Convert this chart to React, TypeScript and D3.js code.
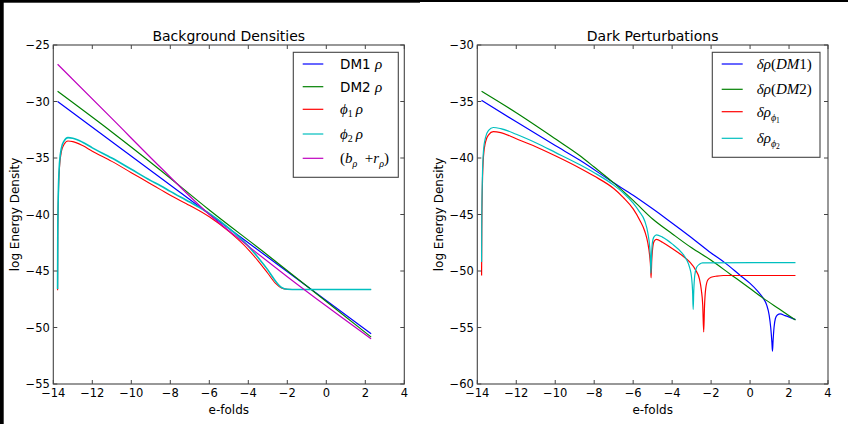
import React from 'react';
import * as d3 from 'd3';

// ---- data ----
const xTicks = [-14, -12, -10, -8, -6, -4, -2, 0, 2, 4];
const leftYTicks = [-55, -50, -45, -40, -35, -30, -25];
const rightYTicks = [-60, -55, -50, -45, -40, -35, -30];

type Pt = [number, number];

// Background Densities
const bgDm1: Pt[] = [[-13.78, -30], [-6, -39.95], [2.3, -50.55]];
const bgDm2: Pt[] = [[-13.78, -29.1], [-11, -32.7], [-8.52, -36.06], [-6, -39.6], [-3, -43.6], [0, -47.7], [2.3, -50.85]];
const bgPhi1: Pt[] = [
  [-13.78, -46.7], [-13.77, -42], [-13.74, -38.5], [-13.68, -35.8], [-13.58, -34.4], [-13.45, -33.8],
  [-13.25, -33.5], [-13.0, -33.55], [-12.5, -33.9], [-12, -34.4], [-11, -35.3], [-10, -36.3], [-9, -37.3],
  [-8.5, -37.8], [-8, -38.3], [-7, -39.2], [-6, -40.2], [-5, -41.5], [-4, -43.1], [-3.5, -44.1], [-3, -45.2],
  [-2.6, -46.1], [-2.3, -46.5], [-2, -46.62], [-1.5, -46.64], [2.3, -46.64],
];
const bgPhi2: Pt[] = [
  [-13.78, -46.6], [-13.77, -41.5], [-13.74, -38], [-13.68, -35.4], [-13.58, -34.1], [-13.45, -33.5],
  [-13.25, -33.2], [-13.0, -33.25], [-12.5, -33.6], [-12, -34.1], [-11, -35.0], [-10, -36.0], [-9, -37.0],
  [-8.5, -37.45], [-8, -37.95], [-7, -38.9], [-6, -39.9], [-5, -41.2], [-4, -42.8], [-3.5, -43.8], [-3, -44.9],
  [-2.6, -45.9], [-2.3, -46.45], [-2, -46.62], [-1.5, -46.64], [2.3, -46.64],
];
const bgBr: Pt[] = [[-13.78, -26.7], [-11, -31.5], [-8.52, -35.8], [-6, -40.0], [-4, -42.8], [-2, -45.5], [0, -48.1], [2.3, -51.0]];

// Dark Perturbations
const dpDm1: Pt[] = [
  [-13.78, -34.9], [-12, -36.8], [-10, -38.9], [-8.73, -40.2], [-7, -42.2], [-6, -43.3], [-5, -44.5], [-4.2, -45.5],
  [-3, -47.05], [-2, -48.4], [-1.3, -49.26], [-0.53, -50.35], [0, -51.1], [0.4, -51.8], [0.67, -52.4], [0.85, -53.0],
  [0.98, -53.9], [1.06, -55.0], [1.12, -56.3], [1.15, -57.1], [1.18, -56.2], [1.23, -55.0], [1.3, -54.2], [1.4, -53.9],
  [1.55, -53.8], [1.8, -53.95], [2.05, -54.1], [2.33, -54.3],
];
const dpDm2: Pt[] = [
  [-13.78, -34.1], [-12, -36.0], [-10, -38.3], [-8.73, -39.8], [-8, -40.8], [-7, -42.2], [-6, -43.75], [-5, -45.4],
  [-4, -46.7], [-3, -47.95], [-2, -49.05], [-1, -50.3], [0, -51.55], [0.67, -52.4], [1.5, -53.37], [2.33, -54.34],
];
const dpPhi1: Pt[] = [
  [-13.78, -50.4], [-13.77, -46.5], [-13.74, -42.5], [-13.68, -39.8], [-13.58, -38.6], [-13.42, -37.95], [-13.18, -37.67],
  [-12.8, -37.75], [-12, -38.3], [-11, -39.0], [-10, -39.8], [-8.73, -40.9], [-8, -41.6], [-7, -42.7], [-6.5, -43.5],
  [-6, -44.5], [-5.66, -45.5], [-5.4, -46.5], [-5.25, -47.5], [-5.15, -48.7], [-5.1, -49.8], [-5.08, -50.6], [-5.05, -49.2],
  [-5.0, -48.0], [-4.92, -47.35], [-4.8, -47.2], [-4.5, -47.45], [-4, -48.0], [-3.5, -48.6], [-3.1, -49.2], [-2.8, -49.9],
  [-2.6, -50.7], [-2.5, -51.7], [-2.43, -53.0], [-2.38, -55.4], [-2.34, -53.2], [-2.28, -51.6], [-2.17, -50.8],
  [-2.0, -50.55], [-1.7, -50.45], [-1.37, -50.4], [2.33, -50.4],
];
const dpPhi2: Pt[] = [
  [-13.78, -49.2], [-13.77, -45.5], [-13.74, -41.8], [-13.68, -39.3], [-13.58, -38.2], [-13.42, -37.55], [-13.18, -37.3],
  [-12.8, -37.4], [-12, -37.9], [-11, -38.65], [-10, -39.5], [-8.73, -40.6], [-8, -41.3], [-7, -42.4], [-6.5, -43.1],
  [-6, -44.0], [-5.7, -44.7], [-5.4, -45.6], [-5.25, -46.6], [-5.15, -47.9], [-5.11, -49.0], [-5.09, -50.2], [-5.06, -48.8],
  [-5.02, -47.6], [-4.94, -47.0], [-4.8, -46.8], [-4.5, -47.0], [-4, -47.6], [-3.5, -48.4], [-3.26, -49.0], [-3.1, -49.7],
  [-3.0, -50.6], [-2.95, -51.8], [-2.92, -53.4], [-2.89, -51.8], [-2.84, -50.4], [-2.75, -49.7], [-2.6, -49.4],
  [-2.44, -49.28], [2.33, -49.26],
];

const BLUE = '#0000ff';
const GREEN = '#008000';
const RED = '#ff0000';
const CYAN = '#00bfbf';
const MAGENTA = '#bf00bf';
const SPINE = '#444';
const SANS = 'DejaVu Sans, sans-serif';
const SERIF = 'Liberation Serif, serif';
const PHI = '\u03d5';

const fmt = (v: number) => String(v).replace('-', '\u2212');

interface PanelProps {
  x0: number; x1: number; y0: number; y1: number;
  yDomain: [number, number];
  yTicks: number[];
  title: string;
  series: { data: Pt[]; color: string; width?: number }[];
  legend: { box: [number, number, number, number]; lineX: [number, number]; textX: number; rows: number[]; labels: React.ReactNode[] };
}

const Panel = ({ x0, x1, y0, y1, yDomain, yTicks, title, series, legend }: PanelProps) => {
  const x = d3.scaleLinear().domain([-14, 4]).range([x0, x1]);
  const y = d3.scaleLinear().domain(yDomain).range([y1, y0]);
  const line = d3.line<Pt>().x(d => x(d[0])).y(d => y(d[1])).curve(d3.curveMonotoneX);
  const tl = 4;
  const [bx, by, bw, bh] = legend.box;
  return (
    <g>
      <defs>
        <clipPath id={`clip-${Math.round(x0)}`}>
          <rect x={x0} y={y0} width={x1 - x0} height={y1 - y0} />
        </clipPath>
      </defs>
      <g clipPath={`url(#clip-${Math.round(x0)})`}>
        {series.map((s, i) => (
          <path key={i} d={line(s.data) || ''} fill="none" stroke={s.color} strokeWidth={s.width ?? 1.2} />
        ))}
      </g>
      <rect x={x0} y={y0} width={x1 - x0} height={y1 - y0} fill="none" stroke={SPINE} strokeWidth={1.1} />
      {xTicks.map(t => (
        <g key={`x${t}`}>
          <line x1={x(t)} x2={x(t)} y1={y1} y2={y1 - tl} stroke={SPINE} />
          <line x1={x(t)} x2={x(t)} y1={y0} y2={y0 + tl} stroke={SPINE} />
          <text x={x(t)} y={y1 + 12.5} textAnchor="middle" fontFamily={SANS} fontSize={11.5} fill="#000">{fmt(t)}</text>
        </g>
      ))}
      {yTicks.map(t => (
        <g key={`y${t}`}>
          <line x1={x0} x2={x0 + tl} y1={y(t)} y2={y(t)} stroke={SPINE} />
          <line x1={x1} x2={x1 - tl} y1={y(t)} y2={y(t)} stroke={SPINE} />
          <text x={x0 - 3.5} y={y(t)} dy="0.35em" textAnchor="end" fontFamily={SANS} fontSize={11.5} fill="#000">{fmt(t)}</text>
        </g>
      ))}
      <text x={(x0 + x1) / 2} y={40.5} textAnchor="middle" fontFamily={SANS} fontSize={14} fill="#000">{title}</text>
      <text x={(x0 + x1) / 2} y={414} textAnchor="middle" fontFamily={SANS} fontSize={12} fill="#000">e-folds</text>
      <text transform={`translate(${x0 - 34},${(y0 + y1) / 2}) rotate(-90)`} textAnchor="middle" fontFamily={SANS} fontSize={12} fill="#000">log Energy Density</text>
      <rect x={bx} y={by} width={bw} height={bh} fill="#fff" stroke={SPINE} strokeWidth={1.1} />
      {legend.rows.map((ry, i) => (
        <g key={`l${i}`}>
          <line x1={legend.lineX[0]} x2={legend.lineX[1]} y1={ry} y2={ry} stroke={series[i].color} strokeWidth={1.2} />
          <text x={legend.textX} y={ry + 5} fontSize={15} fill="#000">{legend.labels[i]}</text>
        </g>
      ))}
    </g>
  );
};

const It = ({ children }: { children: React.ReactNode }) => (
  <tspan fontFamily={SERIF} fontStyle="italic">{children}</tspan>
);
const Up = ({ children }: { children: React.ReactNode }) => (
  <tspan fontFamily={SERIF}>{children}</tspan>
);

const leftLabels: React.ReactNode[] = [
  <><tspan fontFamily={SANS} fontSize={13.5}>DM1 </tspan><It>ρ</It></>,
  <><tspan fontFamily={SANS} fontSize={13.5}>DM2 </tspan><It>ρ</It></>,
  <><It>{PHI}</It><tspan fontFamily={SERIF} fontSize={10} dy={3}>1</tspan><tspan dy={-3}><It>{'\u2009ρ'}</It></tspan></>,
  <><It>{PHI}</It><tspan fontFamily={SERIF} fontSize={10} dy={3}>2</tspan><tspan dy={-3}><It>{'\u2009ρ'}</It></tspan></>,
  <><Up>(</Up><It>b</It><tspan fontFamily={SERIF} fontStyle="italic" fontSize={10} dy={4}>ρ</tspan><tspan fontFamily={SERIF} dy={-4}>{'\u2002+'}</tspan><It>r</It><tspan fontFamily={SERIF} fontStyle="italic" fontSize={10} dy={4}>ρ</tspan><tspan fontFamily={SERIF} dy={-4}>)</tspan></>,
];

const rightLabels: React.ReactNode[] = [
  <><It>δρ</It><Up>(</Up><It>DM</It><Up>1)</Up></>,
  <><It>δρ</It><Up>(</Up><It>DM</It><Up>2)</Up></>,
  <><It>δρ</It><tspan fontFamily={SERIF} fontStyle="italic" fontSize={10} dy={4}>{PHI}</tspan><tspan fontFamily={SERIF} fontSize={7.5} dy={2}>1</tspan></>,
  <><It>δρ</It><tspan fontFamily={SERIF} fontStyle="italic" fontSize={10} dy={4}>{PHI}</tspan><tspan fontFamily={SERIF} fontSize={7.5} dy={2}>2</tspan></>,
];

export default function App() {
  return (
    <svg width={848} height={424} style={{ position: 'absolute', left: 0, top: 0, background: '#fff' }}>
      <rect x={0} y={0} width={848} height={424} fill="#fff" />
      <Panel
        x0={53.3} x1={404.3} y0={45} y1={384}
        yDomain={[-55, -25]} yTicks={leftYTicks}
        title="Background Densities"
        series={[
          { data: bgDm1, color: BLUE },
          { data: bgDm2, color: GREEN },
          { data: bgPhi1, color: RED, width: 1.1 },
          { data: bgPhi2, color: CYAN, width: 1.6 },
          { data: bgBr, color: MAGENTA },
        ]}
        legend={{
          box: [293.3, 52.3, 105, 125],
          lineX: [302.7, 323.3],
          textX: 340,
          rows: [64, 86.7, 109.3, 134, 158.3],
          labels: leftLabels,
        }}
      />
      <Panel
        x0={477.3} x1={828} y0={45} y1={384}
        yDomain={[-60, -30]} yTicks={rightYTicks}
        title="Dark Perturbations"
        series={[
          { data: dpDm1, color: BLUE },
          { data: dpDm2, color: GREEN },
          { data: dpPhi1, color: RED },
          { data: dpPhi2, color: CYAN },
        ]}
        legend={{
          box: [712.3, 52.3, 107.7, 105],
          lineX: [721.7, 742.7],
          textX: 756.7,
          rows: [64, 89.3, 111.7, 138.3],
          labels: rightLabels,
        }}
      />
      <rect x={0} y={0} width={420} height={2.7} fill="#000" />
      <rect x={420} y={0} width={428} height={2} fill="#000" />
      <rect x={0} y={0} width={3.7} height={424} fill="#000" />
    </svg>
  );
}
